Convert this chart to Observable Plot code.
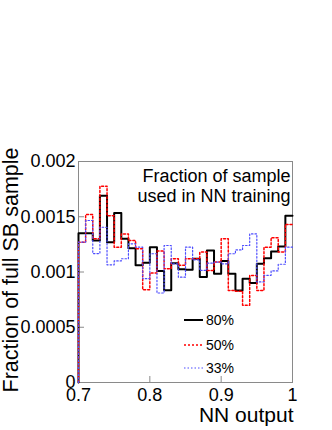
<!DOCTYPE html>
<html><head><meta charset="utf-8">
<script src="https://cdn.jsdelivr.net/npm/d3@7"></script>
<script src="https://cdn.jsdelivr.net/npm/@observablehq/plot@0.6"></script>
<style>body{margin:0;background:#fff;} svg{display:block;}</style>
</head><body><div id="chart"></div>
<script>
// Bin edges of the NN output histogram (30 bins, left edges + final right edge)
const binEdges = [0.70,0.71,0.72,0.73,0.74,0.75,0.76,0.77,0.78,0.79,
                  0.80,0.81,0.82,0.83,0.84,0.85,0.86,0.87,0.88,0.89,
                  0.90,0.91,0.92,0.93,0.94,0.95,0.96,0.97,0.98,0.99,1.00];
// Fraction of full SB sample per bin
const frac80 = [0.00135,0.00135,0.001285,0.00169,0.00127,0.001535,0.00130,0.001215,0.00106,0.001083,
                0.001225,0.00101,0.000835,0.00108,0.001025,0.00102,0.00112,0.000955,0.001195,0.000985,
                0.00110,0.000985,0.000833,0.00094,0.00090,0.001074,0.001125,0.001186,0.00123,0.00151];
const frac50 = [0.00127,0.00152,0.00130,0.001776,0.00151,0.001225,0.001345,0.001285,0.00121,0.00084,
                0.00099,0.00119,0.00103,0.00112,0.00106,0.00112,0.00112,0.00118,0.001014,0.00109,
                0.00130,0.000833,0.000826,0.00070,0.000968,0.000833,0.001225,0.00131,0.00118,0.00143];
const frac33 = [0.00127,0.001466,0.001167,0.001405,0.001065,0.00110,0.00112,0.001255,0.001225,0.00094,
                0.001165,0.00081,0.00124,0.001074,0.000953,0.001225,0.00111,0.001014,0.00108,0.00109,
                0.001074,0.001165,0.00120,0.00124,0.001345,0.00091,0.00097,0.00101,0.00107,0.001225];
const seriesNames = ["80%", "50%", "33%"];
const seriesColors = ["#000000", "#ff0000", "#4d4dff"];
const seriesDash = [null, "2,2", "1.5,2"];
const seriesWidth = [2, 1.5, 1.2];
const xTicks = [0.7, 0.8, 0.9, 1.0];
const xTickLabels = ["0.7", "0.8", "0.9", "1"];
const yTicks = [0, 0.0005, 0.001, 0.0015, 0.002];
const yTickLabels = ["0", "0.0005", "0.001", "0.0015", "0.002"];
const xTitle = "NN output";
const yTitle = "Fraction of full SB sample";
const noteText = "Fraction of sample\nused in NN training";

function stepRows(values, name) {
  const rows = [{x: binEdges[0], y: 0, s: name}];
  values.forEach((v, i) => rows.push({x: binEdges[i], y: v, s: name}));
  rows.push({x: binEdges[binEdges.length - 1], y: values[values.length - 1], s: name});
  return rows;
}
const allValues = [frac80, frac50, frac33];

const W = 332, H = 430, mL = 78, mR = 40, mT = 161, mB = 48;
const plot = Plot.plot({
  width: W, height: H,
  marginLeft: mL, marginRight: mR, marginTop: mT, marginBottom: mB,
  x: {domain: [0.7, 1.0]},
  y: {domain: [0, 0.002]},
  style: {fontFamily: "'Liberation Sans', Arial, sans-serif", background: "white", color: "black", overflow: "visible"},
  marks: [
    Plot.frame({stroke: "#8a8a8a", strokeWidth: 1}),
    Plot.axisX({ticks: xTicks, tickFormat: d => xTickLabels[xTicks.indexOf(d)], tickSize: 0, tickPadding: 6, fontSize: 18, label: null}),
    Plot.axisX({ticks: xTicks, tickSize: -6, text: null, stroke: "#8a8a8a", label: null}),
    Plot.axisY({ticks: yTicks, tickFormat: d => yTickLabels[yTicks.indexOf(d)], tickSize: 0, tickPadding: 3, fontSize: 18, label: null}),
    Plot.axisY({ticks: yTicks, tickSize: -6, text: null, stroke: "#8a8a8a", label: null}),
    ...allValues.map((vals, k) => Plot.line(stepRows(vals, seriesNames[k]), {
      x: "x", y: "y", curve: "step-after",
      stroke: seriesColors[k], strokeWidth: seriesWidth[k], strokeDasharray: seriesDash[k]
    })),
    Plot.text([noteText], {frameAnchor: "top-right", textAnchor: "end", lineAnchor: "top", dx: -2, dy: 6, fontSize: 18, lineHeight: 1.11}),
    Plot.text([xTitle], {frameAnchor: "bottom-right", textAnchor: "end", lineAnchor: "middle", dx: 1, dy: 33, fontSize: 21}),
    Plot.text([yTitle], {frameAnchor: "left", textAnchor: "middle", lineAnchor: "middle", rotate: -90, dx: -67, dy: -2, fontSize: 21.5})
  ]
});

// Legend (drawn in pixel space inside the frame)
const svg = d3.select(plot);
const leg = svg.append("g").attr("font-family", "'Liberation Sans', Arial, sans-serif")
  .attr("font-size", 14).attr("text-anchor", "start").attr("fill", "black");
const legY = [320, 345, 368];
seriesNames.forEach((name, k) => {
  leg.append("line").attr("x1", 184).attr("x2", 203).attr("y1", legY[k]).attr("y2", legY[k])
    .attr("stroke", seriesColors[k]).attr("stroke-width", seriesWidth[k])
    .attr("stroke-dasharray", seriesDash[k]);
  leg.append("text").attr("x", 206).attr("y", legY[k] + 5).attr("text-anchor", "start").text(name);
});

document.getElementById("chart").appendChild(plot);
</script>
</body></html>
